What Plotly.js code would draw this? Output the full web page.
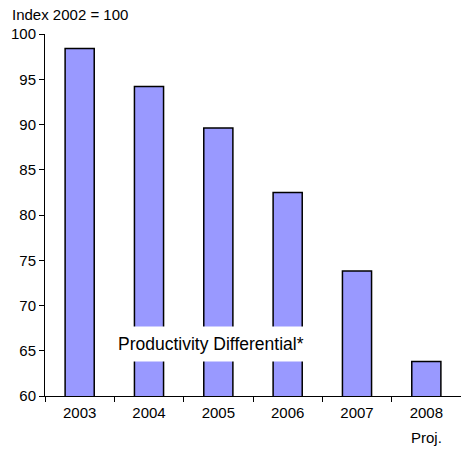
<!DOCTYPE html>
<html>
<head>
<meta charset="utf-8">
<script src="https://cdn.plot.ly/plotly-3.0.1.min.js"></script>
<style>html,body{margin:0;padding:0;background:#fff;}#chart{width:461px;height:449px;}</style>
</head>
<body>
<div id="chart"></div>
<script>
var categories = ["2003", "2004", "2005", "2006", "2007", "2008"];
var tickLabels = ["2003", "2004", "2005", "2006", "2007", "2008"];
var projLabel = "Proj.";
var values = [98.4, 94.2, 89.6, 82.5, 73.8, 63.8];
var seriesName = "Productivity Differential*";
var yAxisLabel = "Index 2002 = 100";

var fam = "Liberation Sans, Arial, sans-serif";

var trace = {
  type: "bar",
  x: categories,
  y: values,
  width: 0.42,
  marker: {color: "#9999FF", line: {color: "#000", width: 1.5}},
  hoverinfo: "none"
};

var layout = {
  width: 461,
  height: 449,
  margin: {l: 45, r: 0, t: 34, b: 53},
  paper_bgcolor: "#fff",
  plot_bgcolor: "#fff",
  font: {family: fam, size: 15, color: "#000"},
  showlegend: false,
  xaxis: {
    type: "category",
    tickmode: "array",
    tickvals: categories,
    ticktext: tickLabels,
    tickson: "boundaries",
    ticks: "outside",
    ticklen: 5,
    tickcolor: "#000",
    ticklabelstandoff: 3,
    showline: true,
    linecolor: "#000",
    linewidth: 1,
    showgrid: false,
    zeroline: false,
    range: [-0.5, 5.5],
    tickfont: {family: fam, size: 15, color: "#000"}
  },
  yaxis: {
    range: [60, 100],
    tickvals: [60, 65, 70, 75, 80, 85, 90, 95, 100],
    ticks: "outside",
    ticklen: 5,
    tickcolor: "#000",
    showline: true,
    linecolor: "#000",
    linewidth: 1,
    showgrid: false,
    zeroline: false,
    tickfont: {family: fam, size: 15, color: "#000"}
  },
  annotations: [
    {
      text: seriesName,
      x: 1.9, y: 65.7, xref: "x", yref: "y",
      showarrow: false,
      bgcolor: "#fff",
      borderpad: 7,
      font: {family: fam, size: 17.5, color: "#000"}
    },
    {
      text: projLabel,
      x: categories.length - 1, xref: "x",
      yref: "paper", y: -(437 - 396) / 362,
      yanchor: "middle",
      showarrow: false,
      font: {family: fam, size: 15, color: "#000"}
    },
    {
      text: yAxisLabel,
      xref: "paper", yref: "paper",
      x: -35/416, y: 1.055,
      xanchor: "left", yanchor: "middle",
      showarrow: false,
      font: {family: fam, size: 15, color: "#000"}
    }
  ]
};

Plotly.newPlot("chart", [trace], layout, {staticPlot: true, displayModeBar: false});
</script>
</body>
</html>
